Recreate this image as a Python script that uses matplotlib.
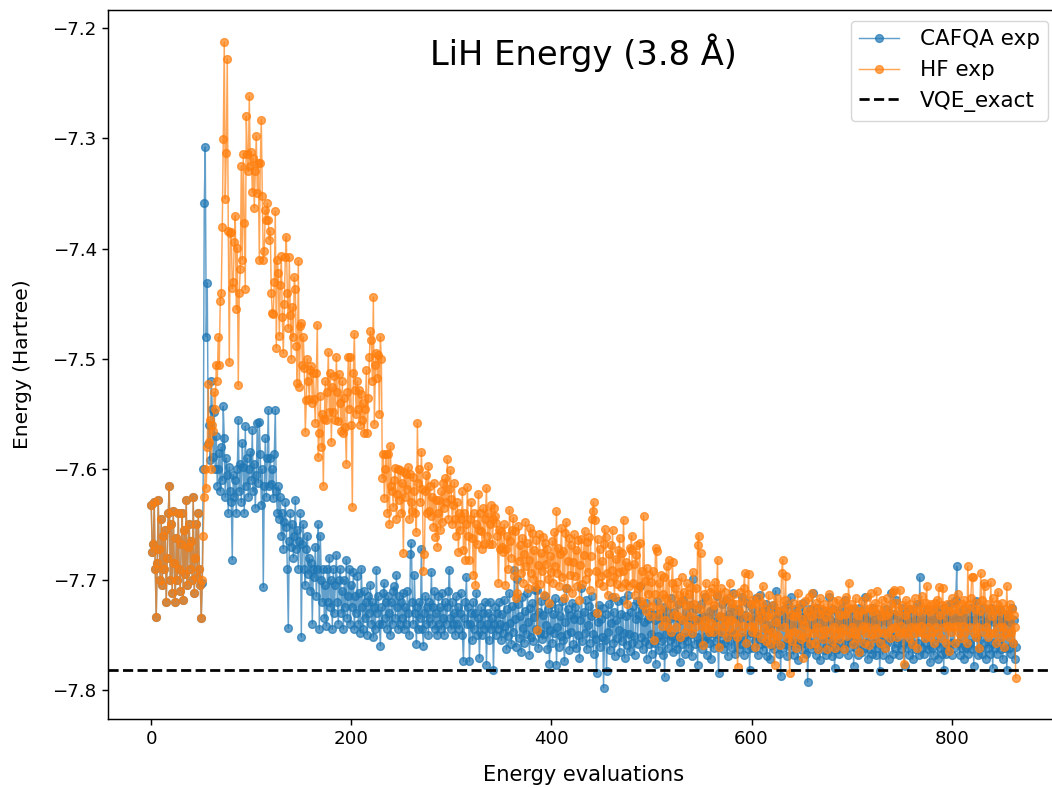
import numpy as np
import matplotlib
matplotlib.use("Agg")
import matplotlib.pyplot as plt

# Energies in milli-Hartree (value / 1000 -> Hartree)
# Evaluations 0..50 are shared by both runs
initial_mHa = [
    -7632,-7675,-7668,-7630,-7690,-7734,-7685,-7628,-7672,-7700,
    -7645,-7705,-7660,-7690,-7655,-7720,-7680,-7640,-7615,-7700,
    -7650,-7712,-7638,-7685,-7720,-7662,-7700,-7640,-7690,-7710,
    -7668,-7640,-7718,-7655,-7695,-7628,-7705,-7670,-7650,-7690,
    -7665,-7700,-7625,-7712,-7680,-7650,-7698,-7640,-7690,-7705,
    -7735]

hf_tail_mHa = [
    -7700,-7660,-7625,-7600,-7617,-7580,-7523,-7575,-7555,-7600,
    -7560,-7565,-7530,-7545,-7505,-7520,-7480,-7505,-7447,-7440,
    -7380,-7301,-7213,-7355,-7313,-7228,-7384,-7503,-7386,-7385,
    -7436,-7430,-7394,-7370,-7455,-7399,-7524,-7440,-7418,-7325,
    -7410,-7314,-7377,-7437,-7280,-7314,-7330,-7262,-7325,-7312,
    -7349,-7318,-7363,-7330,-7298,-7350,-7322,-7410,-7322,-7283,
    -7352,-7410,-7402,-7365,-7374,-7359,-7374,-7392,-7384,-7440,
    -7458,-7459,-7430,-7366,-7490,-7410,-7422,-7479,-7433,-7407,
    -7462,-7495,-7450,-7408,-7389,-7440,-7472,-7408,-7460,-7500,
    -7453,-7480,-7426,-7437,-7488,-7522,-7411,-7525,-7470,-7467,
    -7505,-7480,-7508,-7566,-7537,-7500,-7520,-7536,-7510,-7506,
    -7540,-7513,-7536,-7558,-7513,-7469,-7589,-7567,-7534,-7580,
    -7550,-7615,-7554,-7520,-7555,-7530,-7494,-7548,-7513,-7575,
    -7525,-7548,-7515,-7555,-7498,-7530,-7556,-7514,-7540,-7565,
    -7520,-7567,-7535,-7562,-7595,-7530,-7498,-7545,-7498,-7560,
    -7634,-7513,-7477,-7528,-7550,-7520,-7545,-7528,-7560,-7532,
    -7555,-7540,-7567,-7545,-7510,-7567,-7535,-7498,-7475,-7483,
    -7520,-7444,-7559,-7505,-7495,-7517,-7496,-7550,-7480,-7500,
    -7608,-7586,-7626,-7600,-7586,-7640,-7586,-7650,-7579,-7615,
    -7620,-7634,-7610,-7599,-7645,-7622,-7600,-7628,-7601,-7640,
    -7612,-7676,-7602,-7625,-7604,-7618,-7598,-7645,-7604,-7630,
    -7638,-7607,-7620,-7640,-7657,-7558,-7612,-7600,-7630,-7584,
    -7618,-7692,-7677,-7620,-7605,-7640,-7597,-7638,-7615,-7642,
    -7625,-7652,-7612,-7661,-7628,-7670,-7640,-7628,-7655,-7620,
    -7648,-7612,-7635,-7608,-7630,-7591,-7645,-7618,-7601,-7627,
    -7650,-7632,-7612,-7645,-7660,-7630,-7675,-7640,-7655,-7645,
    -7620,-7673,-7640,-7682,-7650,-7616,-7660,-7682,-7645,-7630,
    -7662,-7696,-7640,-7705,-7650,-7668,-7622,-7655,-7640,-7656,
    -7672,-7635,-7668,-7645,-7617,-7660,-7640,-7668,-7650,-7632,
    -7668,-7645,-7635,-7642,-7649,-7660,-7703,-7655,-7672,-7656,
    -7670,-7675,-7650,-7705,-7672,-7660,-7690,-7637,-7665,-7680,
    -7655,-7644,-7697,-7656,-7717,-7712,-7651,-7683,-7669,-7694,
    -7662,-7703,-7677,-7648,-7688,-7667,-7708,-7682,-7653,-7694,
    -7658,-7699,-7673,-7707,-7664,-7746,-7687,-7659,-7704,-7676,
    -7692,-7661,-7714,-7667,-7686,-7672,-7699,-7721,-7679,-7693,
    -7665,-7703,-7657,-7688,-7638,-7694,-7671,-7706,-7677,-7653,
    -7698,-7674,-7717,-7658,-7648,-7708,-7683,-7662,-7696,-7669,
    -7712,-7684,-7659,-7697,-7673,-7706,-7664,-7718,-7687,-7663,
    -7704,-7678,-7656,-7699,-7666,-7693,-7661,-7709,-7679,-7645,
    -7638,-7630,-7646,-7692,-7730,-7663,-7703,-7672,-7697,-7683,
    -7706,-7668,-7654,-7661,-7694,-7714,-7677,-7702,-7669,-7691,
    -7655,-7698,-7716,-7681,-7704,-7673,-7693,-7662,-7707,-7676,
    -7692,-7646,-7703,-7684,-7722,-7688,-7706,-7671,-7673,-7660,
    -7703,-7686,-7714,-7678,-7669,-7708,-7706,-7667,-7719,-7692,
    -7723,-7642,-7701,-7728,-7689,-7713,-7696,-7733,-7702,-7724,
    -7692,-7755,-7713,-7671,-7674,-7733,-7703,-7727,-7696,-7742,
    -7713,-7698,-7737,-7717,-7688,-7743,-7682,-7722,-7747,-7703,
    -7684,-7732,-7708,-7743,-7702,-7733,-7714,-7752,-7719,-7698,
    -7737,-7711,-7747,-7723,-7703,-7742,-7713,-7733,-7707,-7748,
    -7693,-7722,-7743,-7708,-7737,-7669,-7660,-7727,-7676,-7742,
    -7759,-7713,-7737,-7703,-7744,-7718,-7747,-7711,-7739,-7708,
    -7747,-7723,-7702,-7742,-7713,-7682,-7761,-7733,-7708,-7747,
    -7718,-7742,-7711,-7737,-7752,-7717,-7744,-7703,-7737,-7721,
    -7747,-7713,-7739,-7722,-7752,-7779,-7728,-7711,-7747,-7719,
    -7742,-7708,-7694,-7757,-7733,-7713,-7695,-7742,-7722,-7747,
    -7718,-7743,-7761,-7722,-7748,-7716,-7737,-7729,-7753,-7721,
    -7706,-7744,-7727,-7756,-7733,-7749,-7714,-7758,-7731,-7747,
    -7723,-7754,-7777,-7738,-7717,-7751,-7728,-7759,-7724,-7694,
    -7682,-7743,-7718,-7697,-7753,-7727,-7748,-7785,-7732,-7756,
    -7721,-7747,-7733,-7762,-7729,-7712,-7749,-7722,-7754,-7736,
    -7771,-7741,-7719,-7752,-7728,-7747,-7716,-7758,-7733,-7712,
    -7748,-7726,-7757,-7721,-7743,-7763,-7731,-7717,-7749,-7727,
    -7754,-7722,-7746,-7734,-7763,-7728,-7713,-7748,-7726,-7756,
    -7719,-7743,-7762,-7727,-7749,-7718,-7754,-7732,-7747,-7721,
    -7744,-7763,-7731,-7716,-7751,-7727,-7703,-7748,-7722,-7743,
    -7758,-7726,-7749,-7717,-7753,-7732,-7766,-7728,-7746,-7719,
    -7742,-7757,-7727,-7748,-7716,-7743,-7759,-7726,-7712,-7749,
    -7728,-7753,-7721,-7744,-7710,-7747,-7727,-7757,-7733,-7718,
    -7748,-7726,-7762,-7732,-7717,-7747,-7729,-7753,-7722,-7744,
    -7711,-7709,-7743,-7721,-7752,-7728,-7747,-7709,-7742,-7723,
    -7748,-7776,-7732,-7718,-7747,-7727,-7753,-7722,-7743,-7758,
    -7727,-7748,-7717,-7743,-7762,-7728,-7747,-7722,-7742,-7715,
    -7748,-7727,-7753,-7721,-7706,-7743,-7728,-7752,-7722,-7747,
    -7727,-7757,-7721,-7743,-7718,-7748,-7707,-7732,-7753,-7723,
    -7708,-7743,-7727,-7757,-7722,-7742,-7765,-7728,-7747,-7717,
    -7743,-7727,-7757,-7721,-7742,-7713,-7748,-7728,-7753,-7722,
    -7742,-7718,-7747,-7727,-7757,-7688,-7722,-7743,-7717,-7698,
    -7698,-7748,-7727,-7752,-7721,-7743,-7762,-7728,-7694,-7718,
    -7747,-7703,-7706,-7743,-7722,-7752,-7727,-7748,-7702,-7733,
    -7717,-7748,-7727,-7757,-7722,-7711,-7743,-7728,-7752,-7721,
    -7743,-7761,-7727,-7748,-7706,-7733,-7752,-7722,-7747,-7727,
    -7757,-7732,-7743,-7789]

cafqa_tail_mHa = [
    -7703,-7600,-7359,-7308,-7480,-7431,-7577,-7560,-7592,-7520,
    -7545,-7589,-7548,-7600,-7570,-7615,-7600,-7585,-7620,-7580,
    -7610,-7543,-7572,-7625,-7590,-7605,-7640,-7598,-7620,-7630,
    -7682,-7605,-7625,-7610,-7640,-7600,-7555,-7620,-7595,-7630,
    -7576,-7598,-7640,-7561,-7615,-7590,-7625,-7600,-7584,-7610,
    -7564,-7620,-7595,-7635,-7605,-7558,-7612,-7557,-7586,-7632,
    -7600,-7707,-7615,-7572,-7625,-7590,-7546,-7615,-7590,-7613,
    -7600,-7626,-7586,-7546,-7620,-7640,-7615,-7645,-7625,-7660,
    -7640,-7672,-7648,-7630,-7652,-7690,-7744,-7665,-7640,-7670,
    -7650,-7680,-7660,-7628,-7672,-7655,-7690,-7665,-7640,-7752,
    -7668,-7650,-7690,-7705,-7672,-7660,-7695,-7680,-7710,-7685,
    -7740,-7690,-7698,-7670,-7715,-7690,-7650,-7745,-7660,-7700,
    -7720,-7690,-7735,-7705,-7742,-7690,-7720,-7680,-7725,-7700,
    -7745,-7690,-7730,-7705,-7678,-7720,-7740,-7700,-7690,-7730,
    -7710,-7745,-7700,-7725,-7682,-7735,-7715,-7690,-7740,-7705,
    -7725,-7693,-7745,-7715,-7730,-7697,-7740,-7712,-7748,-7690,
    -7725,-7745,-7710,-7735,-7720,-7750,-7715,-7730,-7705,-7740,
    -7720,-7752,-7725,-7745,-7691,-7730,-7715,-7740,-7760,-7725,
    -7740,-7712,-7703,-7735,-7720,-7745,-7715,-7730,-7750,-7720,
    -7740,-7710,-7706,-7735,-7696,-7725,-7745,-7715,-7740,-7720,
    -7735,-7712,-7745,-7725,-7740,-7710,-7730,-7750,-7677,-7667,
    -7720,-7740,-7696,-7730,-7758,-7725,-7745,-7720,-7735,-7672,
    -7745,-7760,-7730,-7715,-7740,-7725,-7750,-7720,-7735,-7693,
    -7740,-7725,-7710,-7745,-7730,-7750,-7715,-7740,-7725,-7745,
    -7712,-7735,-7750,-7720,-7740,-7725,-7710,-7691,-7735,-7745,
    -7720,-7740,-7730,-7750,-7715,-7740,-7725,-7745,-7730,-7712,
    -7750,-7774,-7735,-7720,-7698,-7740,-7725,-7774,-7740,-7730,
    -7755,-7720,-7745,-7730,-7712,-7750,-7735,-7771,-7740,-7725,
    -7750,-7730,-7745,-7720,-7777,-7740,-7730,-7755,-7720,-7745,
    -7735,-7782,-7740,-7725,-7750,-7730,-7745,-7720,-7740,-7755,
    -7731,-7748,-7718,-7742,-7763,-7727,-7751,-7712,-7739,-7758,
    -7724,-7747,-7691,-7736,-7761,-7699,-7722,-7753,-7733,-7766,
    -7716,-7744,-7757,-7728,-7749,-7712,-7738,-7768,-7726,-7752,
    -7721,-7756,-7734,-7709,-7745,-7709,-7762,-7729,-7748,-7719,
    -7754,-7732,-7749,-7715,-7741,-7763,-7727,-7776,-7746,-7722,
    -7757,-7731,-7748,-7717,-7777,-7743,-7726,-7761,-7733,-7751,
    -7719,-7755,-7774,-7738,-7708,-7749,-7727,-7764,-7732,-7747,
    -7721,-7758,-7736,-7725,-7762,-7731,-7750,-7771,-7737,-7708,
    -7756,-7729,-7748,-7718,-7763,-7741,-7724,-7757,-7733,-7715,
    -7749,-7767,-7730,-7754,-7785,-7738,-7723,-7761,-7736,-7752,
    -7726,-7798,-7755,-7731,-7783,-7747,-7722,-7764,-7739,-7716,
    -7757,-7729,-7769,-7737,-7753,-7719,-7746,-7766,-7731,-7756,
    -7718,-7748,-7771,-7733,-7759,-7714,-7749,-7765,-7729,-7757,
    -7724,-7751,-7768,-7736,-7719,-7758,-7732,-7706,-7752,-7727,
    -7763,-7738,-7756,-7721,-7772,-7736,-7758,-7729,-7749,-7767,
    -7731,-7757,-7737,-7776,-7719,-7751,-7764,-7730,-7756,-7735,
    -7768,-7725,-7788,-7749,-7728,-7762,-7736,-7755,-7717,-7751,
    -7766,-7729,-7757,-7734,-7763,-7722,-7751,-7775,-7737,-7758,
    -7718,-7752,-7767,-7729,-7756,-7734,-7762,-7723,-7749,-7769,
    -7699,-7737,-7758,-7727,-7752,-7777,-7735,-7757,-7722,-7763,
    -7733,-7756,-7716,-7751,-7768,-7734,-7757,-7728,-7772,-7748,
    -7727,-7762,-7735,-7756,-7715,-7749,-7785,-7733,-7758,-7722,
    -7763,-7734,-7757,-7718,-7751,-7769,-7731,-7755,-7726,-7762,
    -7712,-7749,-7767,-7733,-7756,-7727,-7763,-7735,-7758,-7716,
    -7752,-7768,-7732,-7757,-7721,-7763,-7736,-7782,-7748,-7726,
    -7762,-7733,-7756,-7717,-7751,-7768,-7735,-7714,-7758,-7728,
    -7764,-7736,-7757,-7722,-7769,-7746,-7727,-7772,-7741,-7759,
    -7723,-7763,-7736,-7710,-7757,-7728,-7767,-7741,-7787,-7733,
    -7762,-7727,-7758,-7735,-7769,-7722,-7756,-7741,-7716,-7763,
    -7732,-7768,-7727,-7757,-7739,-7773,-7726,-7758,-7734,-7764,
    -7721,-7757,-7738,-7767,-7731,-7793,-7756,-7727,-7763,-7741,
    -7712,-7759,-7734,-7768,-7726,-7763,-7739,-7773,-7732,-7757,
    -7728,-7764,-7738,-7768,-7731,-7756,-7716,-7762,-7737,-7769,
    -7727,-7758,-7780,-7738,-7763,-7731,-7767,-7739,-7757,-7726,
    -7762,-7737,-7718,-7757,-7732,-7768,-7739,-7761,-7727,-7756,
    -7738,-7778,-7733,-7762,-7739,-7768,-7726,-7757,-7737,-7766,
    -7731,-7762,-7716,-7757,-7737,-7772,-7733,-7763,-7738,-7767,
    -7726,-7757,-7736,-7768,-7731,-7762,-7738,-7783,-7756,-7732,
    -7768,-7737,-7762,-7727,-7757,-7738,-7772,-7733,-7712,-7752,
    -7767,-7731,-7762,-7718,-7757,-7733,-7768,-7738,-7763,-7726,
    -7757,-7736,-7778,-7731,-7762,-7737,-7768,-7727,-7757,-7738,
    -7772,-7732,-7763,-7737,-7722,-7757,-7768,-7698,-7738,-7762,
    -7731,-7767,-7737,-7757,-7727,-7763,-7738,-7775,-7732,-7762,
    -7737,-7768,-7727,-7757,-7737,-7772,-7731,-7762,-7738,-7767,
    -7726,-7782,-7737,-7767,-7731,-7762,-7738,-7722,-7757,-7768,
    -7732,-7762,-7737,-7718,-7688,-7757,-7737,-7768,-7731,-7762,
    -7727,-7772,-7738,-7762,-7731,-7767,-7737,-7757,-7726,-7763,
    -7737,-7778,-7732,-7719,-7752,-7768,-7731,-7762,-7737,-7767,
    -7726,-7757,-7738,-7772,-7732,-7762,-7737,-7767,-7726,-7757,
    -7780,-7738,-7762,-7731,-7767,-7737,-7757,-7727,-7763,-7738,
    -7772,-7732,-7762,-7737,-7782,-7731,-7762,-7738,-7767,-7726,
    -7757,-7737,-7772,-7761]

vqe_exact = -7.7819
title = "LiH Energy (3.8 Å)"
labels = ["CAFQA exp", "HF exp", "VQE_exact"]

cafqa = np.array(initial_mHa + cafqa_tail_mHa) / 1000.0
hf = np.array(initial_mHa + hf_tail_mHa) / 1000.0
evals = np.arange(len(hf))

W, H = 1052, 788
s = 1.315
plt.rcParams.update({
    "font.size": 10 * s,
    "axes.linewidth": 0.8 * s,
    "xtick.major.width": 0.8 * s,
    "ytick.major.width": 0.8 * s,
    "xtick.major.size": 3.5 * s,
    "ytick.major.size": 3.5 * s,
})
fig = plt.figure(figsize=(W / 100, H / 100), dpi=100)
# the axes run slightly past the right edge of the picture, as in the reference
ax = fig.add_axes([108 / W, (H - 719) / H, (1059 - 108) / W, (719 - 10) / H])

ax.plot(evals, cafqa, "-o", color="#1f77b4", lw=0.8 * s, ms=5.6,
        alpha=0.7, label=labels[0])
ax.plot(evals, hf, "-o", color="#ff7f0e", lw=0.8 * s, ms=5.6,
        alpha=0.7, label=labels[1])
ax.axhline(vqe_exact, color="black", ls="--", lw=1.5 * s, label=labels[2])

ax.set_xlim(-43.2, 907.2)
ax.set_ylim(-7.8263, -7.1837)
ax.set_xticks([0, 200, 400, 600, 800])
ax.set_yticks([-7.8, -7.7, -7.6, -7.5, -7.4, -7.3, -7.2])
ax.tick_params(labelsize=10 * s)
ax.set_xlabel("Energy evaluations", fontsize=11.5 * s, labelpad=12)
ax.set_ylabel("Energy (Hartree)", fontsize=11 * s, labelpad=15)
ax.text(0.5, 0.94, title, transform=ax.transAxes, ha="center", va="center",
        fontsize=18.5 * s)
ax.legend(loc="upper right", fontsize=11.8 * s, labelspacing=0.5,
          handlelength=1.85, handletextpad=0.95, borderpad=0.4)

fig.savefig("out.png", dpi=100)
